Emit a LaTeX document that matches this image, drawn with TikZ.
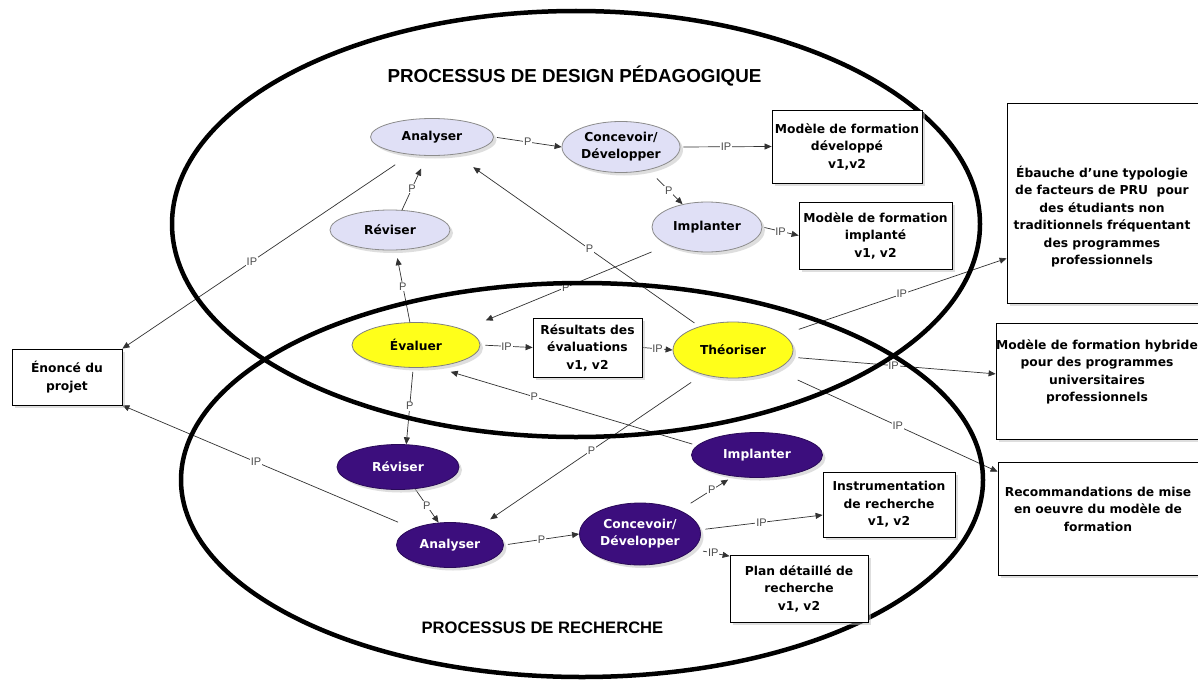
\documentclass[tikz,border=0pt]{standalone}
\usepackage{fontspec}
\setmainfont{DejaVu Sans}
\newfontfamily\lsans{Liberation Sans}
\usetikzlibrary{shapes.geometric,arrows.meta,shadows}
\pgfdeclarelayer{back}
\pgfdeclarelayer{bg}
\pgfdeclarelayer{mid}
\pgfsetlayers{back,bg,mid,main}
\definecolor{lav}{RGB}{224,224,246}
\definecolor{purp}{RGB}{60,14,125}
\definecolor{yel}{RGB}{255,255,26}
\definecolor{lnc}{RGB}{50,50,50}
\begin{document}
\begin{tikzpicture}[x=1pt,y=-1pt,
  shad/.style={drop shadow={shadow xshift=3pt,shadow yshift=-3pt,fill=black!25}},
  concept/.style={ellipse, inner sep=0pt, line width=0.8pt, align=center,
    font=\bfseries\fontsize{12.3}{17}\selectfont, shad},
  cd/.style={concept, fill=lav, draw=black!45},
  ce/.style={concept, fill=yel, draw=black!50},
  cr/.style={concept, fill=purp, text=white, draw=purp!70!black},
  box/.style={rectangle, draw=black, line width=0.8pt, fill=white, inner sep=0pt,
    align=center, font=\bfseries\fontsize{12.3}{17.5}\selectfont, shad},
  txt/.style={align=center, inner sep=0pt, font=\bfseries\fontsize{12.3}{17.5}\selectfont},
  link/.style={draw=lnc, line width=0.7pt, -{Triangle[length=7pt,width=6pt]}},
  lab/.style={fill=white, inner sep=0.8pt, font=\lsans\fontsize{11}{12}\selectfont, text=black!70},
  big/.style={line width=4.5pt, black},
  title/.style={inner sep=0pt, font=\lsans\bfseries}
]
\useasboundingbox (0,0) rectangle (1198,685);
\begin{pgfonlayer}{back}
\fill[white] (0,0) rectangle (1198,685);
\end{pgfonlayer}

% titles
\node[title, font=\lsans\bfseries\fontsize{18.8}{20}\selectfont] (t1) at (574.5,76) {PROCESSUS DE DESIGN PÉDAGOGIQUE};
\node[title, font=\lsans\bfseries\fontsize{16.6}{18}\selectfont] (t2) at (542.5,628) {PROCESSUS DE RECHERCHE};

% design concepts
\node[cd, minimum width=123pt, minimum height=37pt] (A1) at (432,137) {Analyser};
\node[cd, minimum width=118pt, minimum height=51pt] (C1) at (621,147) {Concevoir/\\Développer};
\node[cd, minimum width=120pt, minimum height=40pt] (R1) at (390,230) {Réviser};
\node[cd, minimum width=110pt, minimum height=50pt] (I1) at (707,227) {Implanter};
% shared
\node[ce, minimum width=128pt, minimum height=45pt] (EV) at (416,345) {Évaluer};
\node[ce, minimum width=120pt, minimum height=56pt] (TH) at (733,350) {Théoriser};
% research concepts
\node[cr, minimum width=131pt, minimum height=45pt] (I2) at (757,455) {Implanter};
\node[cr, minimum width=122pt, minimum height=45pt] (R2) at (398,467) {Réviser};
\node[cr, minimum width=107pt, minimum height=45pt] (A2) at (450,545) {Analyser};
\node[cr, minimum width=121pt, minimum height=62pt] (C2) at (640,534) {Concevoir/\\Développer};

% boxes
\node[box, minimum width=150pt, minimum height=73pt] (MD) at (847,146.5) {Modèle de formation\\développé\\v1,v2};
\node[box, minimum width=153pt, minimum height=67pt] (MI) at (875.5,235.5) {Modèle de formation\\implanté\\v1, v2};
\node[box, minimum width=109pt, minimum height=59pt] (RES) at (587.5,347.5) {Résultats des\\évaluations\\v1, v2};
\node[box, minimum width=110pt, minimum height=56pt] (EN) at (67,377) {Énoncé du\\projet};
\node[box, minimum width=132pt, minimum height=65pt] (IN) at (889,504.5) {Instrumentation\\de recherche\\v1, v2};
\node[box, minimum width=138pt, minimum height=67pt] (PL) at (799,588.5) {Plan détaillé de\\recherche\\v1, v2};
\node[box, minimum width=191pt, minimum height=200pt] (EB) at (1102.5,203) {};
\node[txt] (EBt) at (1102,216.7) {Ébauche d'une typologie\\de facteurs de PRU\ \ pour\\des étudiants non\\traditionnels fréquentant\\des programmes\\professionnels};
\node[box, minimum width=202pt, minimum height=116pt] (MH) at (1097,381) {};
\node[txt] (MHt) at (1097,371.8) {Modèle de formation hybride\\pour des programmes\\universitaires\\professionnels};
\node[box, minimum width=200pt, minimum height=113pt] (RC) at (1098,518.5) {};
\node[txt] (RCt) at (1098,509.3) {Recommandations de mise\\en oeuvre du modèle de\\formation};

% big process ellipses
\begin{pgfonlayer}{mid}
\draw[big] (576,224) ellipse [x radius=404pt, y radius=213pt];
\draw[big] (582,480) ellipse [x radius=401pt, y radius=197pt];
\end{pgfonlayer}

% connectors
\begin{pgfonlayer}{bg}
\draw[link, shorten <=3pt] (A1.east) -- node[lab]{P} (C1.west);
\draw[link, shorten <=3pt] (C1.east) -- node[lab]{IP} (MD.west);
\draw[link, shorten <=12pt] (C1.-40) -- node[lab, pos=0.6]{P} (I1.137);
\draw[link, shorten <=2pt] (I1.east) -- node[lab]{IP} (MI.west);
\draw[link, shorten >=14pt] (R1.59) -- node[lab, pos=0.4]{P} (A1.-105);
\draw[link, shorten >=8pt] (EV.105) -- node[lab, pos=0.5]{P} (R1.-74);
\draw[link, shorten <=18pt] (A1.-141) -- node[lab, pos=0.55]{IP} (EN.north east);
\draw[link, shorten <=6pt, shorten >=22pt] (TH.145) -- node[lab, pos=0.45]{P} (A1.-37);
\draw[link, shorten <=18pt, shorten >=24pt] (I1.-155) -- node[lab, pos=0.5]{P} (EV.18);
\draw[link, shorten <=5pt] (EV.east) -- node[lab]{IP} (RES.west);
\draw[link] (RES.east) -- node[lab]{IP} (TH.west);
\draw[link, shorten <=16pt] (TH.17) -- node[lab, pos=0.53]{IP} (EB.210);
\draw[link, shorten <=7pt] (TH.-7) -- node[lab, pos=0.5]{IP} (MH.176);
\draw[link, shorten <=24pt] (TH.-25) -- node[lab, pos=0.55]{IP} (RC.155);
\draw[link, shorten <=4pt] (EV.-97) -- node[lab]{P} (R2.70);
\draw[link, shorten <=5pt, shorten >=17pt] (I2.171) -- node[lab, pos=0.62]{P} (EV.-50);
\draw[link, shorten <=14pt, shorten >=12pt] (TH.-141) -- node[lab, pos=0.5]{P} (A2.32);
\draw[link, shorten <=16pt] (A2.156) -- node[lab, pos=0.54]{IP} (EN.south east);
\draw[link] (R2.-52) -- node[lab]{P} (A2.117);
\draw[link, shorten <=4pt] (A2.east) -- node[lab]{P} (C2.west);
\draw[link, shorten <=13pt, shorten >=6pt] (C2.31) -- node[lab, pos=0.6]{P} (I2.-138);
\draw[link, shorten <=5pt] (C2.4) -- node[lab]{IP} (IN.189);
\draw[link, shorten <=10pt] (C2.-16) -- node[lab, pos=0.55]{IP} (PL.155);
\end{pgfonlayer}
\end{tikzpicture}
\end{document}
